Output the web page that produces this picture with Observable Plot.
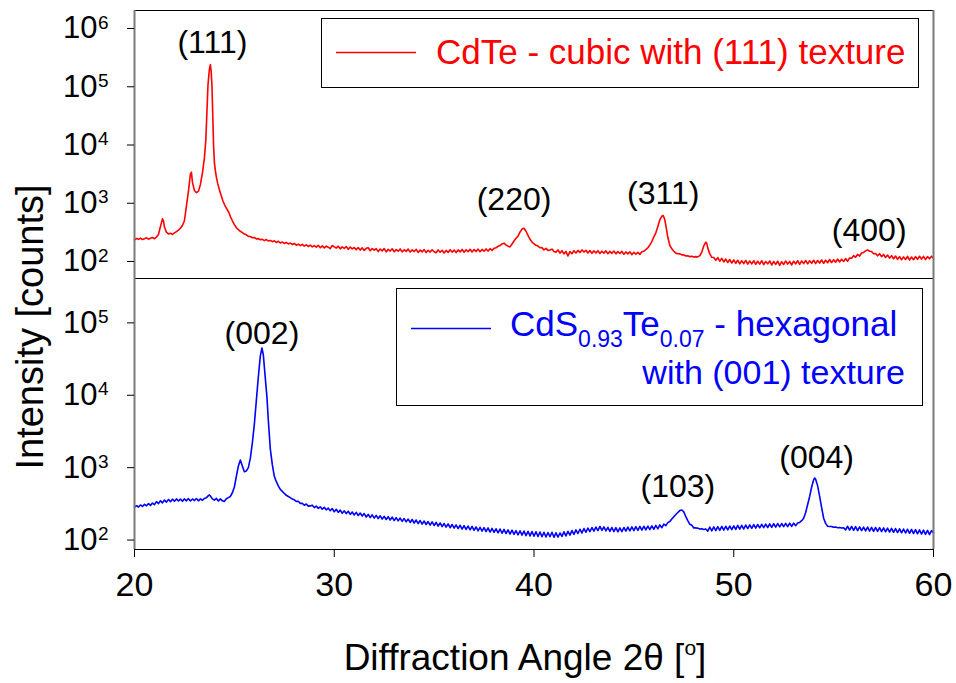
<!DOCTYPE html>
<html>
<head>
<meta charset="utf-8">
<script src="https://cdn.jsdelivr.net/npm/d3@7"></script>
<script src="https://cdn.jsdelivr.net/npm/@observablehq/plot@0.6"></script>
<style>
  html, body { margin: 0; padding: 0; background: #fff; }
  #chart { position: relative; width: 956px; height: 683px; font-family: "Liberation Sans", Arial, Helvetica, sans-serif; }
  #chart > svg, #chart > figure { position: absolute; left: 0; margin: 0; }
  #overlay { top: 0; pointer-events: none; }
</style>
</head>
<body>
<div id="chart"></div>
<script>
// ---- data: CdTe pattern [2theta (deg), counts] ----
const cdte = [
[20.0,236],[20.1,248],[20.2,240],[20.3,252],[20.4,238],[20.5,246],[20.6,255],[20.7,241],[20.8,250],[20.9,258],
[21.0,246],[21.1,262],[21.2,290],[21.3,400],[21.4,540],[21.45,500],[21.5,390],[21.6,318],[21.7,296],[21.8,305],
[21.9,292],[22.0,310],[22.1,325],[22.2,345],[22.3,372],[22.4,415],[22.5,500],[22.6,900],[22.7,1600],[22.8,3200],
[22.85,3400],[22.9,2300],[23.0,1650],[23.1,1520],[23.2,1600],[23.3,2100],[23.4,3300],[23.5,6000],[23.57,12000],[23.63,40000],
[23.68,110000],[23.75,200000],[23.8,240000],[23.84,180000],[23.88,100000],[23.92,30000],[23.96,9500],[24.0,5000],[24.05,3600],[24.1,2800],
[24.17,2150],[24.25,1700],[24.3,1500],[24.42,1110],[24.5,960],[24.6,820],[24.72,700],[24.8,590],[24.9,500],[25.0,430],
[25.1,380],[25.2,352],[25.3,330],[25.4,312],[25.5,296],[25.6,287],[25.7,270],[25.8,268],[25.9,255],[26.0,258],
[26.1,244],[26.2,247],[26.3,236],[26.4,240],[26.5,228],[26.6,238],[26.7,225],[26.8,230],[26.9,219],[27.0,226],
[27.1,212],[27.2,222],[27.3,208],[27.4,215],[27.5,204],[27.6,212],[27.7,200],[27.8,207],[27.9,196],[28.0,204],
[28.1,190],[28.2,199],[28.3,187],[28.4,197],[28.5,184],[28.6,193],[28.7,181],[28.8,191],[28.9,178],[29.0,187],
[29.1,176],[29.2,190],[29.3,172],[29.4,185],[29.5,171],[29.6,183],[29.7,176],[29.8,166],[29.9,188],[30.0,178],
[30.1,170],[30.2,183],[30.3,165],[30.4,178],[30.5,167],[30.6,181],[30.7,162],[30.8,177],[30.9,165],[31.0,174],
[31.1,160],[31.2,173],[31.3,157],[31.4,171],[31.5,155],[31.6,168],[31.7,172],[31.8,153],[31.9,167],[32.0,156],
[32.1,166],[32.2,148],[32.3,163],[32.4,152],[32.5,166],[32.6,146],[32.7,162],[32.8,151],[32.9,165],[33.0,147],
[33.1,160],[33.2,150],[33.3,164],[33.4,146],[33.5,159],[33.6,149],[33.7,163],[33.8,145],[33.9,158],[34.0,148],
[34.1,161],[34.2,143],[34.3,157],[34.4,146],[34.5,160],[34.6,142],[34.7,156],[34.8,145],[34.9,159],[35.0,147],
[35.1,141],[35.2,158],[35.3,144],[35.4,156],[35.5,140],[35.6,155],[35.7,143],[35.8,159],[35.9,145],[36.0,157],
[36.1,142],[36.2,158],[36.3,146],[36.4,161],[36.5,144],[36.6,159],[36.7,147],[36.8,162],[36.9,146],[37.0,160],
[37.1,148],[37.2,163],[37.3,147],[37.4,161],[37.5,150],[37.6,164],[37.7,151],[37.8,166],[37.9,155],[38.0,168],
[38.1,172],[38.2,182],[38.3,188],[38.4,200],[38.5,206],[38.6,192],[38.7,183],[38.8,178],[38.9,200],[39.0,225],
[39.1,250],[39.2,272],[39.3,320],[39.4,360],[39.5,372],[39.6,330],[39.7,280],[39.8,240],[39.9,215],[40.0,200],
[40.1,190],[40.2,184],[40.3,172],[40.4,173],[40.5,158],[40.6,168],[40.7,155],[40.8,157],[40.9,163],[41.0,148],
[41.1,144],[41.2,158],[41.3,139],[41.4,153],[41.5,135],[41.6,149],[41.7,124],[41.8,148],[41.9,136],[42.0,153],
[42.1,140],[42.2,155],[42.3,143],[42.4,158],[42.5,145],[42.6,156],[42.7,140],[42.8,154],[42.9,138],[43.0,152],
[43.1,140],[43.2,153],[43.3,137],[43.4,150],[43.5,139],[43.6,152],[43.7,136],[43.8,149],[43.9,138],[44.0,151],
[44.1,135],[44.2,148],[44.3,137],[44.4,149],[44.5,133],[44.6,146],[44.7,135],[44.8,147],[44.9,131],[45.0,144],
[45.1,133],[45.2,143],[45.3,132],[45.4,147],[45.5,150],[45.6,160],[45.7,172],[45.8,192],[45.9,220],[46.0,265],
[46.1,310],[46.2,400],[46.3,520],[46.4,600],[46.47,616],[46.55,520],[46.63,364],[46.7,260],[46.8,188],[46.9,165],
[47.0,150],[47.1,139],[47.2,136],[47.3,135],[47.4,130],[47.5,130],[47.6,124],[47.7,125],[47.8,121],[47.9,123],
[48.0,119],[48.1,121],[48.2,120],[48.3,126],[48.4,145],[48.5,185],[48.6,214],[48.65,205],[48.7,170],[48.8,135],
[48.9,118],[49.0,117],[49.1,105],[49.2,116],[49.3,101],[49.4,113],[49.5,98],[49.6,110],[49.7,96],[49.8,108],
[49.9,94],[50.0,106],[50.1,93],[50.2,105],[50.3,91],[50.4,103],[50.5,92],[50.6,104],[50.7,90],[50.8,102],
[50.9,91],[51.0,103],[51.1,89],[51.2,101],[51.3,90],[51.4,103],[51.5,88],[51.6,100],[51.7,91],[51.8,102],
[51.9,87],[52.0,100],[52.1,89],[52.2,101],[52.3,86],[52.4,99],[52.5,89],[52.6,102],[52.7,90],[52.8,100],
[52.9,87],[53.0,101],[53.1,91],[53.2,103],[53.3,89],[53.4,102],[53.5,92],[53.6,104],[53.7,91],[53.8,103],
[53.9,93],[54.0,105],[54.1,92],[54.2,104],[54.3,94],[54.4,106],[54.5,93],[54.6,105],[54.7,95],[54.8,108],
[54.9,96],[55.0,107],[55.1,97],[55.2,110],[55.3,98],[55.4,109],[55.5,100],[55.6,112],[55.7,101],[55.8,115],
[55.9,114],[56.0,126],[56.1,118],[56.2,132],[56.3,124],[56.4,140],[56.5,143],[56.6,152],[56.7,158],[56.8,150],
[56.9,148],[57.0,136],[57.1,137],[57.2,125],[57.3,136],[57.4,121],[57.5,132],[57.6,117],[57.7,129],[57.8,114],
[57.9,126],[58.0,111],[58.1,124],[58.2,109],[58.3,121],[58.4,107],[58.5,120],[58.6,108],[58.7,122],[58.8,106],
[58.9,119],[59.0,107],[59.1,121],[59.2,109],[59.3,123],[59.4,110],[59.5,122],[59.6,108],[59.7,121],[59.8,111],
[59.9,123],[60.0,113]
];

// ---- data: CdS0.93Te0.07 pattern [2theta (deg), counts] ----
const cds = [
[20.0,285],[20.1,298],[20.2,286],[20.3,305],[20.4,291],[20.5,312],[20.6,297],[20.7,318],[20.8,301],[20.9,324],
[21.0,308],[21.1,340],[21.2,318],[21.3,349],[21.4,326],[21.5,357],[21.6,334],[21.7,363],[21.8,339],[21.9,367],
[22.0,344],[22.1,370],[22.2,346],[22.3,368],[22.4,343],[22.5,371],[22.6,348],[22.7,373],[22.8,346],[22.9,369],
[23.0,351],[23.1,375],[23.2,348],[23.3,371],[23.4,354],[23.5,376],[23.6,385],[23.7,410],[23.75,420],[23.8,405],
[23.9,370],[24.0,356],[24.1,376],[24.2,346],[24.3,370],[24.4,348],[24.5,342],[24.6,372],[24.7,385],[24.8,400],
[24.9,450],[25.0,540],[25.1,760],[25.2,1050],[25.3,1270],[25.4,1050],[25.5,880],[25.6,900],[25.7,1000],[25.8,1350],
[25.9,2200],[26.0,4000],[26.1,8500],[26.2,18000],[26.3,35000],[26.38,45000],[26.45,36000],[26.55,17000],[26.63,9500],[26.7,4500],
[26.8,1800],[26.9,1100],[27.0,760],[27.1,640],[27.2,560],[27.3,500],[27.4,470],[27.5,440],[27.6,415],[27.7,400],
[27.8,385],[27.9,368],[28.0,360],[28.1,342],[28.2,343],[28.3,321],[28.4,321],[28.5,302],[28.6,315],[28.7,294],
[28.8,296],[28.9,303],[29.0,281],[29.1,294],[29.2,274],[29.3,288],[29.4,266],[29.5,283],[29.6,261],[29.7,276],
[29.8,254],[29.9,272],[30.0,246],[30.1,266],[30.2,241],[30.3,259],[30.4,234],[30.5,253],[30.6,232],[30.7,250],
[30.8,226],[30.9,244],[31.0,222],[31.1,241],[31.2,218],[31.3,236],[31.4,214],[31.5,232],[31.6,208],[31.7,226],
[31.8,204],[31.9,223],[32.0,201],[32.1,219],[32.2,198],[32.3,216],[32.4,195],[32.5,212],[32.6,192],[32.7,210],
[32.8,189],[32.9,207],[33.0,186],[33.1,204],[33.2,184],[33.3,201],[33.4,181],[33.5,198],[33.6,178],[33.7,195],
[33.8,175],[33.9,192],[34.0,172],[34.1,189],[34.2,169],[34.3,186],[34.4,166],[34.5,183],[34.6,164],[34.7,180],
[34.8,161],[34.9,178],[35.0,159],[35.1,175],[35.2,156],[35.3,172],[35.4,153],[35.5,169],[35.6,151],[35.7,167],
[35.8,148],[35.9,164],[36.0,146],[36.1,162],[36.2,144],[36.3,160],[36.4,142],[36.5,158],[36.6,140],[36.7,156],
[36.8,138],[36.9,154],[37.0,136],[37.1,152],[37.2,134],[37.3,150],[37.4,133],[37.5,148],[37.6,131],[37.7,147],
[37.8,129],[37.9,145],[38.0,128],[38.1,143],[38.2,126],[38.3,142],[38.4,124],[38.5,140],[38.6,123],[38.7,138],
[38.8,121],[38.9,137],[39.0,120],[39.1,135],[39.2,118],[39.3,134],[39.4,117],[39.5,133],[39.6,115],[39.7,132],
[39.8,114],[39.9,131],[40.0,113],[40.1,130],[40.2,112],[40.3,129],[40.4,111],[40.5,128],[40.6,110],[40.7,127],
[40.8,111],[40.9,128],[41.0,109],[41.1,126],[41.2,110],[41.3,125],[41.4,112],[41.5,130],[41.6,114],[41.7,132],
[41.8,117],[41.9,135],[42.0,120],[42.1,138],[42.2,123],[42.3,141],[42.4,125],[42.5,144],[42.6,128],[42.7,146],
[42.8,131],[42.9,149],[43.0,133],[43.1,151],[43.2,135],[43.3,154],[43.4,136],[43.5,152],[43.6,134],[43.7,150],
[43.8,132],[43.9,149],[44.0,131],[44.1,148],[44.2,130],[44.3,147],[44.4,131],[44.5,149],[44.6,133],[44.7,151],
[44.8,134],[44.9,152],[45.0,135],[45.1,153],[45.2,136],[45.3,154],[45.4,137],[45.5,155],[45.6,138],[45.7,156],
[45.8,139],[45.9,157],[46.0,141],[46.1,159],[46.2,143],[46.3,162],[46.4,148],[46.5,166],[46.6,158],[46.7,174],
[46.8,180],[46.9,195],[47.0,210],[47.1,225],[47.2,240],[47.3,255],[47.4,260],[47.5,245],[47.6,210],[47.7,185],
[47.8,165],[47.9,160],[48.0,147],[48.1,147],[48.2,146],[48.3,142],[48.4,143],[48.5,140],[48.6,142],[48.7,133],
[48.8,151],[48.9,134],[49.0,152],[49.1,135],[49.2,153],[49.3,136],[49.4,154],[49.5,137],[49.6,155],[49.7,138],
[49.8,156],[49.9,139],[50.0,157],[50.1,140],[50.2,159],[50.3,141],[50.4,160],[50.5,142],[50.6,161],[50.7,144],
[50.8,162],[50.9,145],[51.0,163],[51.1,146],[51.2,164],[51.3,147],[51.4,165],[51.5,148],[51.6,166],[51.7,149],
[51.8,167],[51.9,150],[52.0,168],[52.1,151],[52.2,169],[52.3,152],[52.4,169],[52.5,153],[52.6,170],[52.7,153],
[52.8,171],[52.9,154],[53.0,171],[53.1,158],[53.2,172],[53.3,175],[53.4,185],[53.5,200],[53.6,240],[53.7,310],
[53.8,400],[53.9,540],[54.0,680],[54.05,720],[54.1,690],[54.2,560],[54.3,400],[54.4,280],[54.5,200],[54.6,170],
[54.7,155],[54.8,154],[54.9,154],[55.0,150],[55.1,151],[55.2,148],[55.3,149],[55.4,147],[55.5,148],[55.6,138],
[55.7,155],[55.8,137],[55.9,154],[56.0,136],[56.1,153],[56.2,135],[56.3,152],[56.4,135],[56.5,151],[56.6,134],
[56.7,151],[56.8,133],[56.9,150],[57.0,132],[57.1,149],[57.2,132],[57.3,148],[57.4,131],[57.5,147],[57.6,130],
[57.7,146],[57.8,129],[57.9,145],[58.0,128],[58.1,144],[58.2,127],[58.3,143],[58.4,126],[58.5,142],[58.6,125],
[58.7,141],[58.8,124],[58.9,140],[59.0,123],[59.1,139],[59.2,122],[59.3,138],[59.4,121],[59.5,137],[59.6,120],
[59.7,136],[59.8,119],[59.9,135],[60.0,125]
];

// ---- axes ----
const xTicks = [20, 30, 40, 50, 60];
const yTicksTop = [1e2, 1e3, 1e4, 1e5, 1e6];
const yExpTop = ["2", "3", "4", "5", "6"];
const yTicksBottom = [1e2, 1e3, 1e4, 1e5];
const yExpBottom = ["2", "3", "4", "5"];

// ---- peak annotations ----
const peakTopLabels = ["(111)", "(220)", "(311)", "(400)"];
const peakTopAngle = [23.9, 39.0, 46.47, 56.78];
const peakTopCounts = [5.8e5, 1150, 1440, 340];
const peakBottomLabels = ["(002)", "(103)", "(004)"];
const peakBottomAngle = [26.38, 47.2, 54.15];
const peakBottomCounts = [70000, 545, 1350];

const FONT = '"Liberation Sans", Arial, Helvetica, sans-serif';
const RED = "#ff0000", BLUE = "#0000ff", AXISGRAY = "#7a7a7a";

const peaksTop = peakTopLabels.map((t, i) => ({t, x: peakTopAngle[i], y: peakTopCounts[i]}));
const peaksBottom = peakBottomLabels.map((t, i) => ({t, x: peakBottomAngle[i], y: peakBottomCounts[i]}));

function yAxisMarks(ticks, exps) {
  return [
    Plot.axisY(ticks, {tickSize: 7, tickPadding: 30, tickFormat: () => "10", fontSize: 31, label: null, stroke: "#000", fill: "#000"}),
    Plot.text(ticks, {y: d => d, text: (d, i) => exps[i], frameAnchor: "left", textAnchor: "start", dx: -36.5, dy: -6, fontSize: 19, fill: "#000"})
  ];
}

const topPlot = Plot.plot({
  width: 956, height: 280,
  marginLeft: 134, marginRight: 23, marginTop: 10, marginBottom: 2,
  style: {fontFamily: FONT, background: "transparent", overflow: "visible"},
  x: {domain: [20, 60], axis: null},
  y: {type: "log", domain: [51, 2.04e6], axis: null},
  marks: [
    Plot.frame({stroke: "#000", strokeWidth: 1}),
    Plot.line(cdte, {x: d => d[0], y: d => d[1], stroke: RED, strokeWidth: 1.6}),
    Plot.ruleX([20, 60], {stroke: AXISGRAY, strokeWidth: 2}),
    ...yAxisMarks(yTicksTop, yExpTop),
    Plot.text(peaksTop, {x: "x", y: "y", text: "t", fontSize: 32, fill: "#000"})
  ]
});
topPlot.style.top = "0px";

const bottomPlot = Plot.plot({
  width: 956, height: 415,
  marginLeft: 134, marginRight: 23, marginTop: 10, marginBottom: 134,
  style: {fontFamily: FONT, background: "transparent", overflow: "visible"},
  x: {domain: [20, 60], axis: null},
  y: {type: "log", domain: [74, 4.1e5], axis: null},
  marks: [
    Plot.frame({stroke: "#000", strokeWidth: 1}),
    Plot.line(cds, {x: d => d[0], y: d => d[1], stroke: BLUE, strokeWidth: 1.6}),
    Plot.ruleX([20, 60], {stroke: AXISGRAY, strokeWidth: 2}),
    ...yAxisMarks(yTicksBottom, yExpBottom),
    Plot.axisX(xTicks, {tickSize: 8, tickPadding: 14, fontSize: 34, label: null, stroke: "#000", fill: "#000"}),
    Plot.text(peaksBottom, {x: "x", y: "y", text: "t", fontSize: 32, fill: "#000"})
  ]
});
bottomPlot.style.top = "268px";

const chart = document.getElementById("chart");
chart.appendChild(topPlot);
chart.appendChild(bottomPlot);

// ---- overlay: legends and axis titles ----
const NS = "http://www.w3.org/2000/svg";
const overlay = document.createElementNS(NS, "svg");
overlay.setAttribute("id", "overlay");
overlay.setAttribute("width", 956);
overlay.setAttribute("height", 683);
overlay.style.position = "absolute";
overlay.style.left = "0px";
overlay.style.top = "0px";
overlay.setAttribute("font-family", FONT);
overlay.innerHTML = `
  <rect x="321.5" y="18.5" width="597" height="69" fill="#fff" stroke="#000" stroke-width="1"/>
  <line x1="336" x2="416" y1="52.5" y2="52.5" stroke="${RED}" stroke-width="1.3"/>
  <text x="436" y="64" font-size="35" fill="${RED}">CdTe - cubic with (111) texture</text>

  <rect x="396.5" y="288.5" width="526" height="117" fill="#fff" stroke="#000" stroke-width="1"/>
  <line x1="411" x2="491" y1="328.5" y2="328.5" stroke="${BLUE}" stroke-width="1.3"/>
  <text x="510" y="336" font-size="35" fill="${BLUE}">CdS<tspan font-size="23" dy="11">0.93</tspan><tspan dy="-11">Te</tspan><tspan font-size="23" dy="11">0.07</tspan><tspan dy="-11"> - hexagonal</tspan></text>
  <text x="905" y="384" font-size="34" fill="${BLUE}" text-anchor="end">with (001) texture</text>

  <text transform="translate(43,327) rotate(-90)" text-anchor="middle" font-size="38" fill="#000">Intensity [counts]</text>
  <text x="525" y="670" text-anchor="middle" font-size="37" fill="#000">Diffraction Angle 2θ [<tspan font-size="21" dy="-15">o</tspan><tspan dy="15">]</tspan></text>
`;
chart.appendChild(overlay);
</script>
</body>
</html>
